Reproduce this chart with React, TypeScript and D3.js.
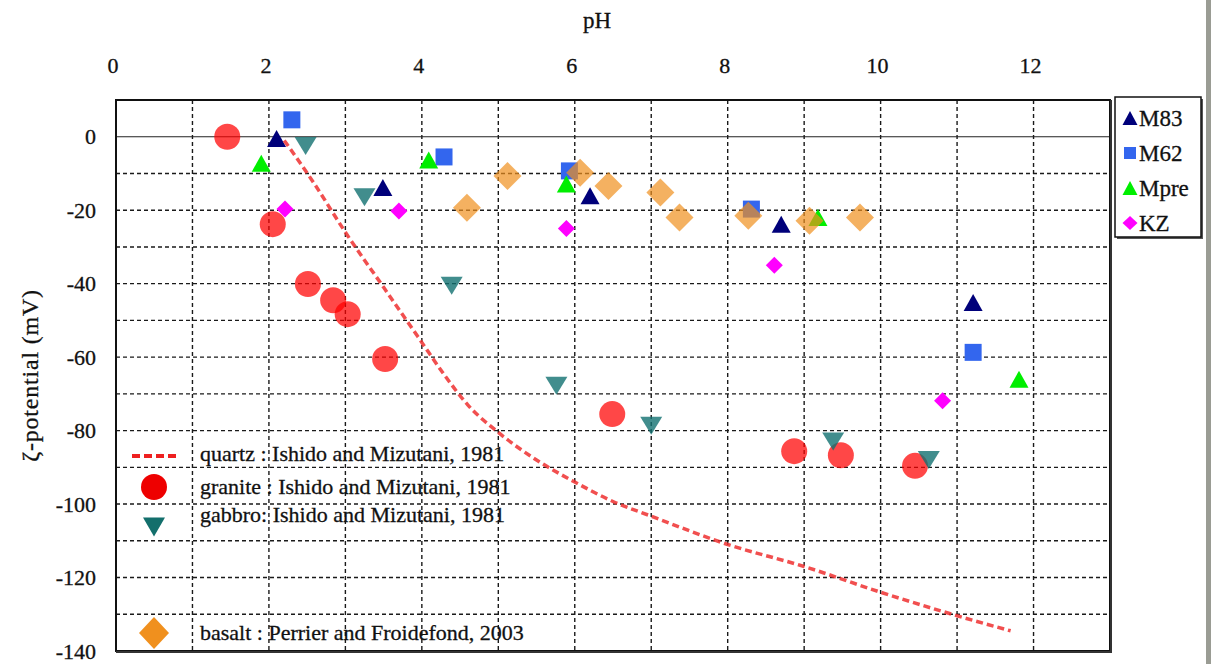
import React from "react";
import * as d3 from "d3";

const W = 1211;
const H = 664;

const xTickValues = [0, 2, 4, 6, 8, 10, 12];
const yTickValues = [0, -20, -40, -60, -80, -100, -120, -140];
const xGridValues = [1, 2, 3, 4, 5, 6, 7, 8, 9, 10, 11, 12];
const yGridValues = [-130, -120, -110, -100, -90, -80, -70, -60, -50, -40, -30, -20, -10];

// quartz : Ishido and Mizutani, 1981 (curve)
const quartz: [number, number][] = [
  [2.2, -1], [2.6, -13], [3.0, -26], [3.5, -41], [4.0, -56], [4.3, -65],
  [4.6, -73], [5.0, -80.5], [5.5, -88], [6.0, -94], [6.5, -99.3], [7.0, -103.3],
  [8.0, -111], [9.0, -117], [10.0, -124], [11.0, -130.4], [11.7, -134.5],
];
// granite : Ishido and Mizutani, 1981
const granite: [number, number][] = [
  [1.455, 0], [2.05, -23.8], [2.51, -40.1], [2.84, -44.5], [3.03, -48.3],
  [3.52, -60.5], [6.49, -75.5], [8.87, -85.6], [9.48, -86.7], [10.45, -89.6],
];
// gabbro : Ishido and Mizutani, 1981
const gabbro: [number, number][] = [
  [2.48, -2.5], [3.25, -16.5], [4.39, -40.6], [5.76, -67.8], [7.0, -78.7],
  [9.38, -83], [10.63, -88],
];
// basalt : Perrier and Froidefond, 2003
const basalt: [number, number][] = [
  [4.59, -19.3], [5.12, -10.7], [6.07, -9.8], [6.44, -13.4], [7.12, -15.2],
  [7.37, -22.0], [8.27, -21.5], [9.07, -22.9], [9.73, -22],
];
const m83: [number, number][] = [
  [2.1, -0.5], [3.49, -13.8], [6.2, -16.1], [8.7, -23.8], [11.21, -45.1],
];
const m62: [number, number][] = [
  [2.3, 4.6], [4.29, -5.5], [5.93, -9.3], [8.31, -19.7], [11.21, -58.7],
];
const mpre: [number, number][] = [
  [1.9, -7.2], [4.09, -6.3], [5.89, -12.9], [9.18, -22], [11.81, -66],
];
const kz: [number, number][] = [
  [2.21, -19.7], [3.7, -20.2], [5.89, -25], [8.61, -35], [10.81, -71.9],
];

const innerLegend = [
  { key: "quartz", label: "quartz : Ishido and Mizutani, 1981" },
  { key: "granite", label: "granite : Ishido and Mizutani, 1981" },
  { key: "gabbro", label: "gabbro: Ishido and Mizutani, 1981" },
  { key: "basalt", label: "basalt : Perrier and Froidefond, 2003" },
];
const sideLegend = ["M83", "M62", "Mpre", "KZ"];

const FONT = "Liberation Serif, Times New Roman, serif";
const txt: React.CSSProperties = { fontFamily: FONT };

const tri = (w: number, h: number) => `M0,${-h / 2}L${w / 2},${h / 2}L${-w / 2},${h / 2}Z`;
const triDown = (w: number, h: number) => `M0,${h / 2}L${w / 2},${-h / 2}L${-w / 2},${-h / 2}Z`;
const diamond = (hw: number, hh: number) => `M0,${-hh}L${hw},0L0,${hh}L${-hw},0Z`;
const square = (s: number) => `M${-s / 2},${-s / 2}h${s}v${s}h${-s}Z`;

export default function App() {
  const left = 116, right = 1110, top = 100, bottom = 651;
  const x = d3.scaleLinear().domain([0, 13]).range([left, right]);
  const y = d3.scaleLinear().domain([-140, 10]).range([bottom, top]);
  const line = d3.line<[number, number]>()
    .x((d) => x(d[0]))
    .y((d) => y(d[1]))
    .curve(d3.curveMonotoneX);

  const pts = (data: [number, number][], path: string, fill: string, opacity = 1, key = "") =>
    data.map((d, i) => (
      <path key={key + i} d={path} transform={`translate(${x(d[0])},${y(d[1])})`} fill={fill} fillOpacity={opacity} />
    ));

  const legY = [456, 487, 527, 633];
  const legTextY = [461, 494, 522, 640];
  const sideY = [118, 153, 188, 223];
  const textPaint = { fill: "#111", stroke: "#111", strokeWidth: 0.3 };

  return (
    <div style={{ position: "absolute", left: 0, top: 0 }}>
      <svg width={W} height={H} style={{ display: "block", background: "#fff", fontFamily: FONT }}>
        <rect x={0} y={0} width={W} height={H} fill="#fff" />
        {/* grid */}
        {xGridValues.map((v) => (
          <line key={"gx" + v} x1={x(v)} x2={x(v)} y1={top} y2={bottom} stroke="#1a1a1a" strokeWidth={1.4} strokeDasharray="4,3" />
        ))}
        {yGridValues.map((v) => (
          <line key={"gy" + v} x1={left} x2={right} y1={y(v)} y2={y(v)} stroke="#1a1a1a" strokeWidth={1.4} strokeDasharray="4,3" />
        ))}
        <line x1={left} x2={right} y1={y(0)} y2={y(0)} stroke="#222" strokeWidth={1.2} />

        {/* data */}
        {pts(granite, "M0,0m-13,0a13,13 0 1,0 26,0a13,13 0 1,0 -26,0", "#ff0000", 0.72, "gr")}
        {pts(gabbro, triDown(22, 18), "#117070", 0.8, "gb")}
        {pts(m83, tri(19, 17), "#00007a", 1, "m83")}
        {pts(m62, square(17), "#3366ee", 1, "m62")}
        {pts(mpre, tri(19, 17), "#00ee00", 1, "mp")}
        {pts(kz, diamond(8.5, 8.5), "#ff00ff", 1, "kz")}
        {pts(basalt, diamond(14, 14), "#f0901e", 0.7, "bs")}
        <path d={line(quartz) || ""} fill="none" stroke="#ee3030" strokeOpacity={0.85} strokeWidth={3.5} strokeDasharray="7,4" />

        {/* frame */}
        <rect x={left} y={top} width={right - left} height={bottom - top} fill="none" stroke="#111" strokeWidth={2} />
        <line x1={right + 1} x2={right + 1} y1={top} y2={bottom + 2} stroke="#333" strokeWidth={2} />
        <line x1={left} x2={right + 2} y1={bottom + 1} y2={bottom + 1} stroke="#333" strokeWidth={2} />

        {/* tick labels */}
        {xTickValues.map((v) => (
          <text key={"xt" + v} x={x(v) - 3} y={73} fontSize={22} textAnchor="middle" style={txt} {...textPaint}>{v}</text>
        ))}
        {yTickValues.map((v) => (
          <text key={"yt" + v} x={96} y={y(v) + 7.5} fontSize={22} textAnchor="end" style={txt} {...textPaint}>{v}</text>
        ))}
        <text x={597} y={28} fontSize={23} textAnchor="middle" style={txt} {...textPaint}>pH</text>
        <text transform={`translate(38,${(top + bottom) / 2}) rotate(-90)`} fontSize={24} letterSpacing={0.8} textAnchor="middle" style={txt} {...textPaint}>ζ-potential (mV)</text>

        {/* inner legend */}
        <line x1={132} x2={180} y1={legY[0]} y2={legY[0]} stroke="#ee2020" strokeWidth={4} strokeDasharray="8,4" />
        <circle cx={154} cy={legY[1]} r={13} fill="#ee0000" />
        <path d={triDown(22, 19)} transform={`translate(154,${legY[2]})`} fill="#136f6c" />
        <path d={diamond(15, 16)} transform={`translate(154,${legY[3]})`} fill="#f0901e" />
        {innerLegend.map((l, i) => (
          <text key={l.key} x={200} y={legTextY[i]} fontSize={22} style={txt} {...textPaint}>{l.label}</text>
        ))}

        {/* side legend */}
        <rect x={1117} y={99} width={86} height={140} fill="#555" />
        <rect x={1115} y={97} width={86} height={140} fill="#fff" stroke="#111" strokeWidth={1.5} />
        <path d={tri(15, 14)} transform={`translate(1130,${sideY[0]})`} fill="#00007a" />
        <path d={square(12)} transform={`translate(1130,${sideY[1]})`} fill="#3366ee" />
        <path d={tri(15, 14)} transform={`translate(1130,${sideY[2]})`} fill="#00ee00" />
        <path d={diamond(7.5, 7)} transform={`translate(1130,${sideY[3]})`} fill="#ff00ff" />
        {sideLegend.map((s, i) => (
          <text key={s} x={1139} y={sideY[i] + 8} fontSize={23} style={txt} {...textPaint}>{s}</text>
        ))}

        {/* right scan edge */}
        <rect x={1206} y={0} width={5} height={H} fill="#9a9c94" />
      </svg>
    </div>
  );
}
